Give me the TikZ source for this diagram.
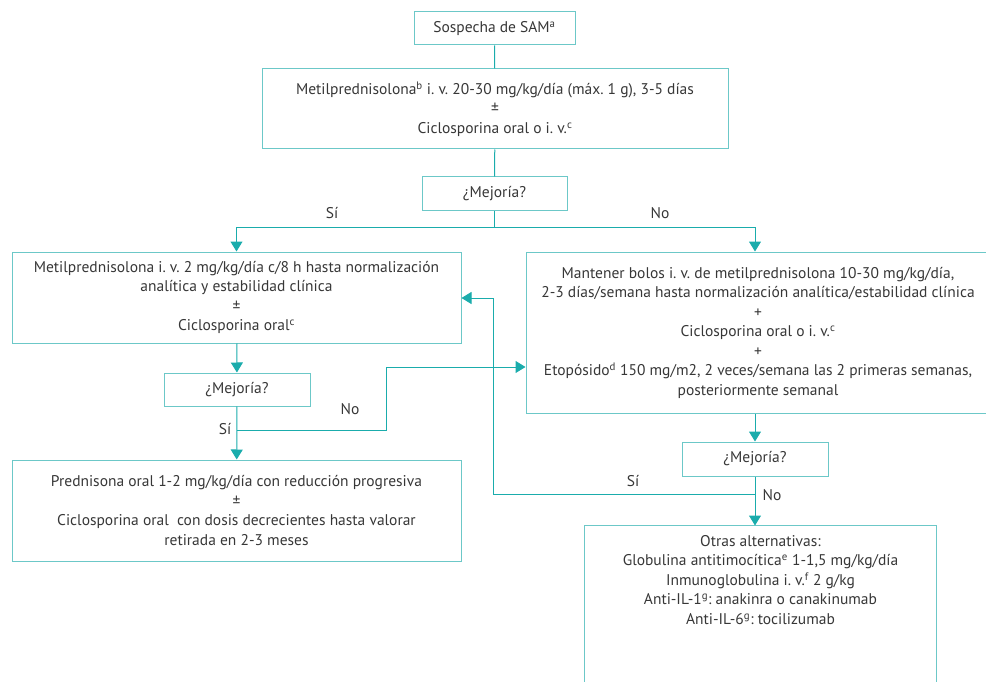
\documentclass[tikz,border=0pt]{standalone}
\usepackage{fontspec}
\setmainfont{PT Sans}
\usetikzlibrary{arrows.meta}
\definecolor{tealline}{RGB}{26,172,172}
\definecolor{tealbox}{RGB}{108,200,200}
\definecolor{txtgray}{RGB}{55,55,55}
\frenchspacing
\begin{document}
\begin{tikzpicture}[x=1pt, y=-1pt,
   box/.style = {draw=tealbox, line width=1pt, inner sep=0pt, align=center,
                 text=txtgray, font=\fontsize{15.5}{19.5}\selectfont},
   lbl/.style = {text=txtgray, font=\fontsize{15.5}{19.5}\selectfont, inner sep=0pt},
   con/.style = {draw=tealline, line width=1pt},
   arr/.style = {con, -{Triangle[width=12pt,length=10pt]}}]
   \useasboundingbox (0,0) rectangle (986,682);
   % boxes
   \node[box, minimum width=161pt, minimum height=33pt] (sosp) at (494.5,28.5) {Sospecha de SAM\textsuperscript{a}};
   \node[box, minimum width=466pt, minimum height=80pt] (metil) at (495,109)
      {Metilprednisolona\textsuperscript{b} i. v. 20-30 mg/kg/día (máx. 1 g), 3-5 días\\ ±\\ Ciclosporina oral o i. v.\textsuperscript{c}};
   \node[box, minimum width=145pt, minimum height=34pt] (mej1) at (494.5,194) {¿Mejoría?};
   \node[box, minimum width=449pt, minimum height=91pt] (lsi) at (236.5,297.5)
      {Metilprednisolona i. v. 2 mg/kg/día c/8 h hasta normalización\\ analítica y estabilidad clínica\\ ±\\ Ciclosporina oral\textsuperscript{c}};
   \node[box, minimum width=464pt, minimum height=161pt] (rno) at (758,332.5)
      {Mantener bolos i. v. de metilprednisolona 10-30 mg/kg/día,\\ 2-3 días/semana hasta normalización analítica/estabilidad clínica\\ +\\ Ciclosporina oral o i. v.\textsuperscript{c}\\ +\\ Etopósido\textsuperscript{d} 150 mg/m2, 2 veces/semana las 2 primeras semanas,\\ posteriormente semanal};
   \node[box, minimum width=146pt, minimum height=33pt] (mej2) at (237,389.5) {¿Mejoría?};
   \node[box, minimum width=449pt, minimum height=101pt] (pred) at (236.5,510.5)
      {Prednisona oral 1-2 mg/kg/día con reducción progresiva\\ ±\\ Ciclosporina oral\ \ con dosis decrecientes hasta valorar\\ retirada en 2-3 meses};
   \node[box, minimum width=146pt, minimum height=34pt] (mej3) at (755,459) {¿Mejoría?};
   \node[box, draw=none, minimum width=351pt, minimum height=160pt] (otras) at (760.5,606) {};
   \draw[tealbox, line width=1pt] (otras.south west) -- (otras.north west) -- (otras.north east) -- (otras.south east);
   \node[lbl, align=center, anchor=north] (otrastxt) at (760.5,535)
      {Otras alternativas:\\ Globulina antitimocítica\textsuperscript{e} 1-1,5 mg/kg/día\\ Inmunoglobulina i. v.\textsuperscript{f} 2 g/kg\\ Anti-IL-1\textsuperscript{g}: anakinra o canakinumab\\ Anti-IL-6\textsuperscript{g}: tocilizumab};
   % branch points
   \coordinate (split) at (494.5,227);
   \coordinate (splitl) at (236.5,227);
   \coordinate (splitr) at (755,227);
   \coordinate (no2) at (237,430);
   \coordinate (no2a) at (386,430);
   \coordinate (no2b) at (386,367);
   \coordinate (si3) at (755,494);
   \coordinate (si3a) at (493,494);
   \coordinate (si3b) at (493,298);
   % connectors
   \draw[con] (sosp) -- (metil);
   \draw[con] (metil) -- (mej1);
   \draw[con] (mej1) -- (split);
   \draw[con] (splitl) -- (splitr);
   \draw[arr] (splitl) -- (lsi.north);
   \draw[arr] (splitr) -- (splitr |- rno.north);
   \draw[arr] (lsi) -- (mej2);
   \draw[arr] (mej2) -- (pred);
   \draw[arr] (no2) -- (no2a) -- (no2b) -- (no2b -| rno.west);
   \draw[arr] (mej3.north |- rno.south) -- (mej3);
   \draw[arr] (mej3) -- (mej3.south |- otras.north);
   \draw[arr] (si3) -- (si3a) -- (si3b) -- (si3b -| lsi.east);
   % labels
   \node[lbl] (si1) at (332,213) {Sí};
   \node[lbl] (no1) at (660,213) {No};
   \node[lbl] (si2) at (225,429) {Sí};
   \node[lbl] (no2lbl) at (350,409) {No};
   \node[lbl] (si3lbl) at (633,481) {Sí};
   \node[lbl] (no3lbl) at (772,495) {No};
\end{tikzpicture}
\end{document}
